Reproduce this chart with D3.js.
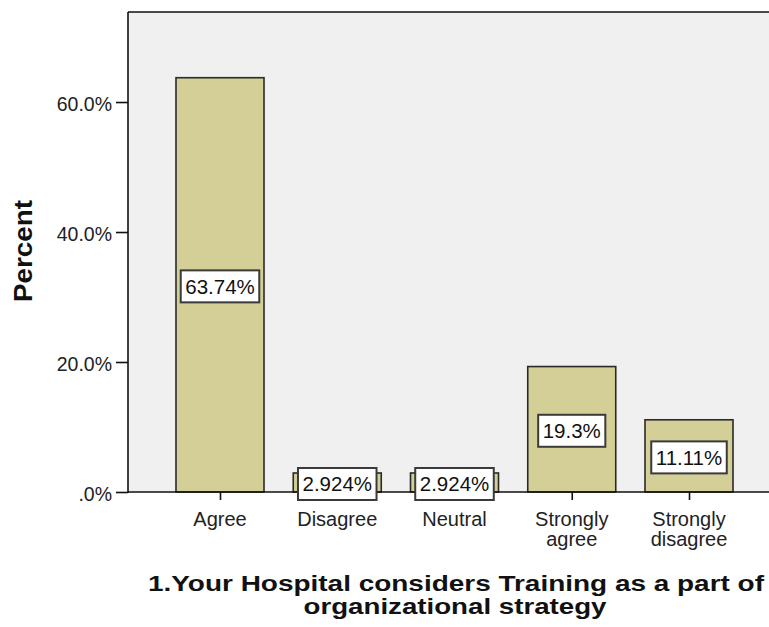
<!DOCTYPE html>
<html>
<head>
<meta charset="utf-8">
<script src="https://cdn.jsdelivr.net/npm/d3@7"></script>
<style>
  html, body { margin: 0; padding: 0; background: #fff; }
  svg { display: block; font-family: "Liberation Sans", Arial, sans-serif; }
</style>
</head>
<body>
<svg id="chart" width="769" height="627"></svg>
<script>
const categories = ["Agree", "Disagree", "Neutral", "Strongly agree", "Strongly disagree"];
const categoryLines = [["Agree"], ["Disagree"], ["Neutral"], ["Strongly", "agree"], ["Strongly", "disagree"]];
const values = [63.74, 2.924, 2.924, 19.3, 11.11];
const valueLabels = ["63.74%", "2.924%", "2.924%", "19.3%", "11.11%"];
const yTicks = [0, 20, 40, 60];
const yTickLabels = [".0%", "20.0%", "40.0%", "60.0%"];

const svg = d3.select("#chart");
const plotLeft = 128, plotTop = 12, plotRight = 769, plotBottom = 492;

const y = d3.scaleLinear().domain([0, 73.85]).range([plotBottom, plotTop]);
const x = d3.scalePoint().domain(categories).range([220, 689]);
const barW = 88;
const fontFam = "'Liberation Sans', Arial, sans-serif";

// plot background
svg.append("rect").attr("x", plotLeft).attr("y", plotTop)
  .attr("width", plotRight - plotLeft).attr("height", plotBottom - plotTop)
  .attr("fill", "#f0f0f0");

// bars
svg.selectAll("rect.bar").data(values).enter().append("rect")
  .attr("class", "bar")
  .attr("x", (d, i) => x(categories[i]) - barW / 2)
  .attr("y", d => y(d))
  .attr("width", barW)
  .attr("height", d => y(0) - y(d))
  .attr("fill", "#d3cf97")
  .attr("stroke", "#2a2a2a")
  .attr("stroke-width", 1.6);

// frame top line
svg.append("line").attr("x1", plotLeft).attr("x2", plotRight).attr("y1", plotTop).attr("y2", plotTop)
  .attr("stroke", "#111").attr("stroke-width", 1.5);

// y axis
const yAxis = d3.axisLeft(y).tickValues(yTicks).tickSize(12).tickPadding(4)
  .tickFormat((d, i) => yTickLabels[i]);
const gy = svg.append("g").attr("transform", `translate(${plotLeft},0)`).call(yAxis);
gy.select(".domain").remove();
gy.selectAll(".tick line").attr("stroke", "#111").attr("stroke-width", 1.6);
gy.selectAll(".tick text").attr("font-size", 19.5).attr("fill", "#222")
  .attr("font-family", fontFam).attr("dy", "0.45em");
svg.append("line").attr("x1", plotLeft).attr("x2", plotLeft).attr("y1", plotTop).attr("y2", plotBottom + 1)
  .attr("stroke", "#111").attr("stroke-width", 1.6);

// x axis
const xAxis = d3.axisBottom(x).tickSize(8).tickFormat("");
const gx = svg.append("g").attr("transform", `translate(0,${plotBottom})`).call(xAxis);
gx.select(".domain").remove();
gx.selectAll(".tick line").attr("stroke", "#111").attr("stroke-width", 1.6);
svg.append("line").attr("x1", plotLeft).attr("x2", plotRight).attr("y1", plotBottom).attr("y2", plotBottom)
  .attr("stroke", "#111").attr("stroke-width", 1.6);

// x tick labels
categoryLines.forEach((lines, i) => {
  const t = svg.append("text").attr("text-anchor", "middle")
    .attr("font-size", 20).attr("fill", "#222");
  lines.forEach((ln, j) => {
    t.append("tspan").attr("x", x(categories[i])).attr("y", 526 + j * 20).text(ln);
  });
});

// value label boxes
values.forEach((v, i) => {
  const cx = x(categories[i]);
  const cy = y(v / 2) + 1.5;
  const g = svg.append("g");
  const txt = g.append("text").attr("x", cx).attr("y", cy).attr("dy", "0.36em")
    .attr("text-anchor", "middle").attr("font-size", 20.5).attr("fill", "#111")
    .text(valueLabels[i]);
  const bb = txt.node().getBBox();
  const w = bb.width + 9, h = 32;
  g.insert("rect", "text").attr("x", cx - w / 2).attr("y", cy - h / 2)
    .attr("width", w).attr("height", h).attr("fill", "#fff").attr("stroke", "#3a3a3a").attr("stroke-width", 2);
});

// y axis title
svg.append("text").attr("transform", "translate(32,251) rotate(-90)")
  .attr("text-anchor", "middle").attr("font-size", 26).attr("font-weight", "bold").attr("fill", "#111")
  .attr("textLength", 102).attr("lengthAdjust", "spacingAndGlyphs")
  .text("Percent");

// x axis title
const xt = svg.append("g").attr("font-size", 22).attr("font-weight", "bold").attr("fill", "#111");
xt.append("text").attr("text-anchor", "middle").attr("x", 456).attr("y", 591)
  .attr("textLength", 616).attr("lengthAdjust", "spacingAndGlyphs")
  .text("1.Your Hospital considers Training as a part of");
xt.append("text").attr("text-anchor", "middle").attr("x", 455).attr("y", 614)
  .attr("textLength", 303).attr("lengthAdjust", "spacingAndGlyphs")
  .text("organizational strategy");
</script>
</body>
</html>
